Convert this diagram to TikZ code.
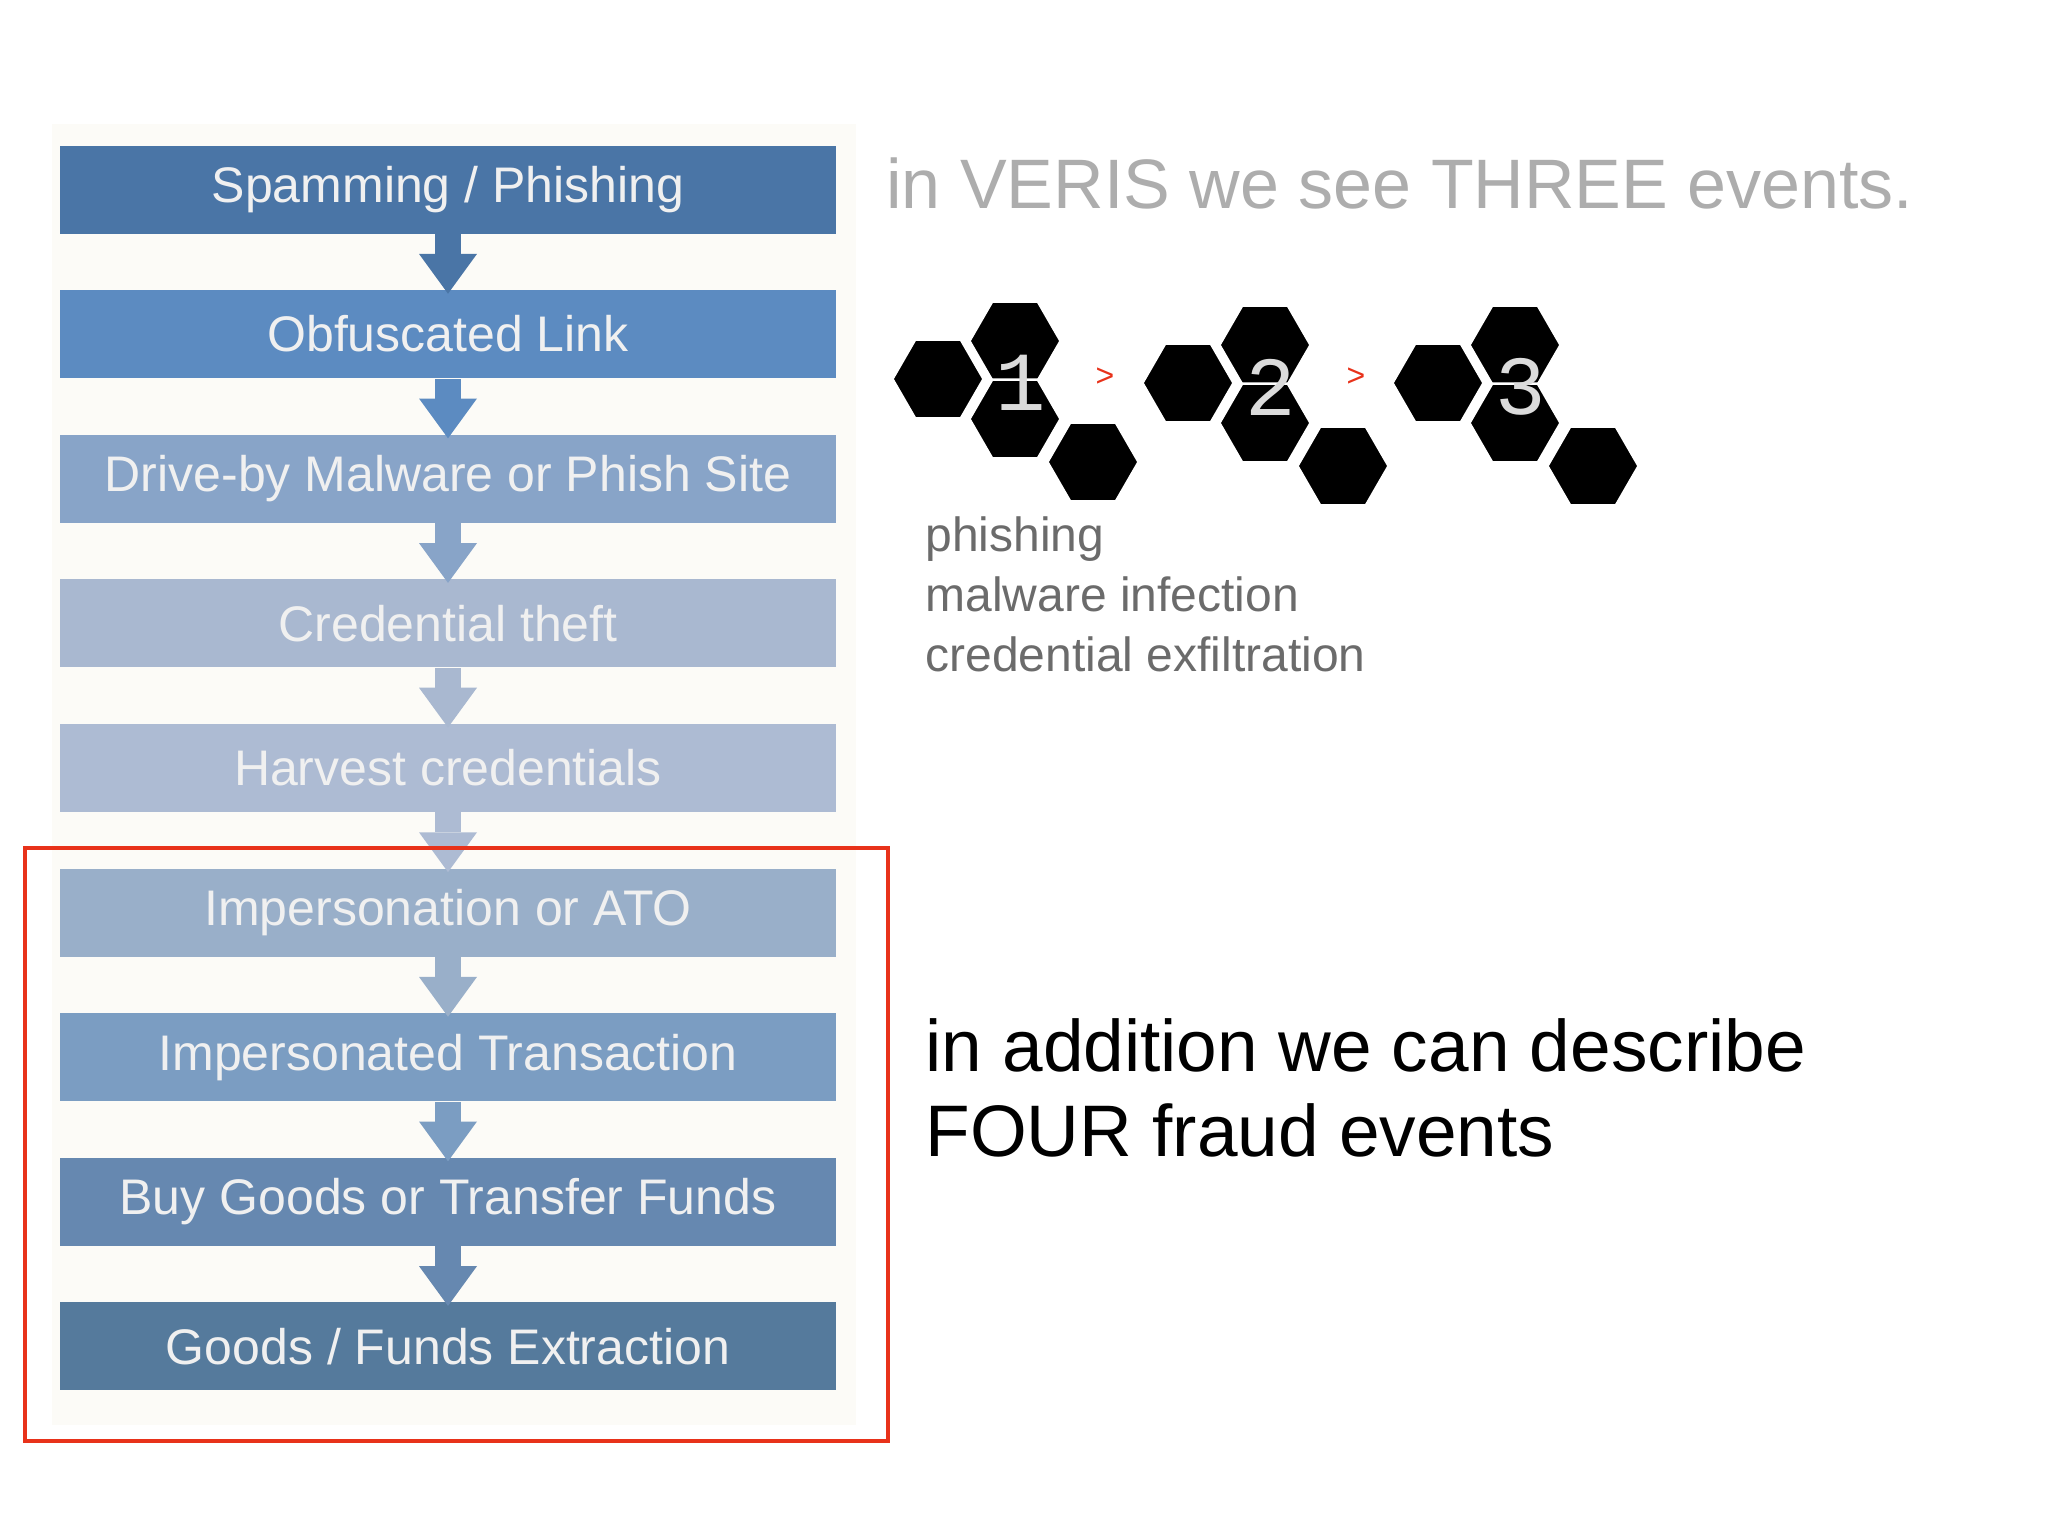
\documentclass[tikz,border=0pt]{standalone}
\usepackage{fontspec}
\setmainfont{Liberation Sans}
\newfontfamily\monof{Liberation Mono}
\usetikzlibrary{shapes.geometric}
\definecolor{c1}{HTML}{4A75A6}
\definecolor{c2}{HTML}{5C8BC1}
\definecolor{c3}{HTML}{88A4C8}
\definecolor{c4}{HTML}{A9B8D0}
\definecolor{c5}{HTML}{ADBBD3}
\definecolor{c6}{HTML}{99AFC9}
\definecolor{c7}{HTML}{7B9DC2}
\definecolor{c8}{HTML}{6688B0}
\definecolor{c9}{HTML}{557A9C}
\definecolor{redl}{HTML}{E8321A}
\tikzset{
 box/.style={rectangle,minimum width=388pt,minimum height=44pt,inner sep=0pt,text=white!94!black,font=\fontsize{25}{28}\selectfont},
 hx/.style={regular polygon,regular polygon sides=6,minimum size=45.5pt,inner sep=0pt,fill=black,draw=white,line width=1.2pt},
 num/.style={text=black!14,font=\monof\fontsize{42}{44}\selectfont},
 gt/.style={text=redl,font=\fontsize{16}{18}\selectfont},
 ev/.style={anchor=base west,inner sep=0pt,text=black!58,font=\fontsize{24}{30}\selectfont},
 fr/.style={anchor=base west,inner sep=0pt,text=black,font=\fontsize{36.5}{42.5}\selectfont},
}
\begin{document}
\begin{tikzpicture}[x=0.5pt,y=-0.5pt]
\useasboundingbox (0,0) rectangle (2048,1536);
\fill[white] (0,0) rectangle (2048,1536);
\fill[color={rgb,255:red,252;green,251;blue,247}] (52,124) rectangle (856,1425);
\foreach \i/\c/\t in {1/c1/{Spamming / Phishing},2/c2/{Obfuscated Link},3/c3/{Drive-by Malware or Phish Site},4/c4/{Credential theft},5/c5/{Harvest credentials},6/c6/{Impersonation or ATO},7/c7/{Impersonated Transaction},8/c8/{Buy Goods or Transfer Funds},9/c9/{Goods / Funds Extraction}}{
 \node[box,fill=\c] (b\i) at (448,{189.5+(\i-1)*144.6}) {\t};
}
\foreach \i/\j/\c in {1/2/c1,2/3/c2,3/4/c3,4/5/c4,5/6/c5,6/7/c6,7/8/c7,8/9/c8}{
 \fill[\c] ([xshift=-6.5pt]b\i.south) rectangle ([xshift=6.5pt,yshift=-10pt]b\i.south);
 \fill[\c] ([xshift=-14.5pt,yshift=-10pt]b\i.south) -- ([xshift=14.5pt,yshift=-10pt]b\i.south) -- ([yshift=-2pt]b\j.north) -- cycle;
}
\node[draw=redl,line width=1.8pt,minimum width=431.5pt,minimum height=296.5pt,inner sep=0pt] (frame) at (456.5,1144.5) {};
\node[anchor=base west,text=black!32,font=\fontsize{35}{40}\selectfont,inner sep=0pt] (title) at (886,208) {in VERIS we see THREE events.};
\foreach \g/\dx/\dy/\n in {1/0/0/1,2/250/4/2,3/500/4/3}{
 \node[hx] (h\g a) at ({938+\dx},{379+\dy}) {};
 \node[hx] (h\g b) at ({1015+\dx},{341+\dy}) {};
 \node[hx] (h\g c) at ({1015+\dx},{419+\dy}) {};
 \node[hx] (h\g d) at ({1093+\dx},{462+\dy}) {};
 \node[num] (n\g) at ({1021+\dx},{383+\dy}) {\n};
}
\node[gt] (g1) at (1105,377) {>};
\node[gt] (g2) at (1356,377) {>};
\node[ev] (e1) at (925,551) {phishing};
\node[ev] (e2) at (925,611) {malware infection};
\node[ev] (e3) at (925,671) {credential exfiltration};
\node[fr] (f1) at (925,1071) {in addition we can describe};
\node[fr] (f2) at (925,1156) {FOUR fraud events};
\end{tikzpicture}
\end{document}
